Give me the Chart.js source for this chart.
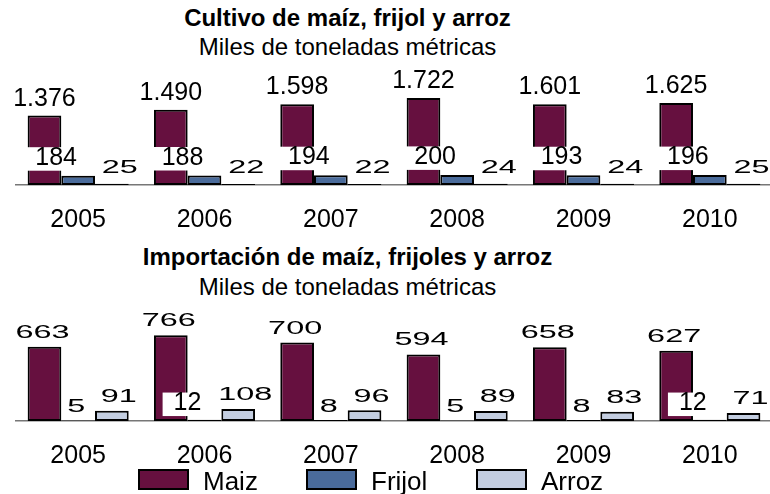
<!DOCTYPE html>
<html><head><meta charset="utf-8">
<script src="https://cdn.jsdelivr.net/npm/chart.js@4/dist/chart.umd.min.js"></script>
<style>
html,body{margin:0;padding:0;width:770px;height:494px;overflow:hidden;background:#fff;font-family:"Liberation Sans",Arial,sans-serif;color:#000;}
.t{position:absolute;left:0;width:695px;text-align:center;font-size:24px;line-height:24px;white-space:nowrap;}
.b{font-weight:bold;}
canvas{position:absolute;}
.sw{position:absolute;width:47px;height:17px;border:2px solid #000;top:469px;}
.lt{position:absolute;font-size:26px;line-height:26px;top:468px;white-space:nowrap;}
</style></head><body>
<div class="t b" style="top:6px">Cultivo de maíz, frijol y arroz</div>
<div class="t" style="top:35px">Miles de toneladas métricas</div>
<div class="t b" style="top:245px">Importación de maíz, frijoles y arroz</div>
<div class="t" style="top:275px">Miles de toneladas métricas</div>
<canvas id="c1" width="758" height="255" style="left:15px;top:0"></canvas>
<canvas id="c2" width="758" height="251" style="left:15px;top:240px"></canvas>
<div id="legend"></div>
<script>
// ---- data ----
const years = ['2005', '2006', '2007', '2008', '2009', '2010'];
const seriesNames = ['Maiz', 'Frijol', 'Arroz'];
const cultivoMaiz   = [1376, 1490, 1598, 1722, 1601, 1625];
const cultivoFrijol = [184, 188, 194, 200, 193, 196];
const cultivoArroz  = [25, 22, 22, 24, 24, 25];
const importMaiz    = [663, 766, 700, 594, 658, 627];
const importFrijol  = [5, 12, 8, 5, 8, 12];
const importArroz   = [91, 108, 96, 89, 83, 71];

// ---- style ----
const colors = ['#66103F', '#4A6B9B', '#C3CDE0'];
const FONT = '"Liberation Sans", Arial, sans-serif';
const importFrijolBoxed = [false, true, false, false, false, true];

const fmt = v => String(v).replace(/\B(?=(\d{3})+(?!\d))/g, '.');

const valueLabels = {
  id: 'valueLabels',
  afterDatasetsDraw(chart) {
    const ctx = chart.ctx;
    chart.data.datasets.forEach((ds, i) => {
      const meta = chart.getDatasetMeta(i);
      const st = ds.labelStyle;
      meta.data.forEach((bar, j) => {
        const s = (st.alt && st.alt[j]) ? st.altStyle : st;
        const text = fmt(ds.data[j]);
        const cx = bar.x + s.dx;
        const by = bar.y - s.gap;
        ctx.save();
        ctx.font = s.size + 'px ' + FONT;
        const w = ctx.measureText(text).width * s.sx;
        if (s.box) {
          ctx.fillStyle = '#fff';
          ctx.fillRect(cx - w / 2 - 11, by - 17.5, w + 22, 23.5);
        }
        ctx.fillStyle = '#000';
        ctx.textAlign = 'center';
        ctx.textBaseline = 'alphabetic';
        ctx.translate(cx, by);
        ctx.scale(s.sx, 1);
        ctx.fillText(text, 0, 0);
        ctx.restore();
      });
    });
  }
};

function makeChart(id, values, styles, yMax, padTop) {
  return new Chart(document.getElementById(id), {
    type: 'bar',
    data: {
      labels: years,
      datasets: values.map((v, i) => ({
        label: seriesNames[i], data: v,
        backgroundColor: colors[i], borderColor: '#000', borderWidth: 2,
        borderSkipped: false,
        categoryPercentage: 0.8, barPercentage: 1.0,
        labelStyle: styles[i]
      }))
    },
    options: {
      responsive: false, animation: false, devicePixelRatio: 1,
      layout: { padding: { top: padTop, left: 0, right: 0, bottom: 0 } },
      plugins: { legend: { display: false }, tooltip: { enabled: false }, title: { display: false } },
      scales: {
        x: {
          grid: { display: false, drawTicks: false },
          border: { display: true, color: '#777', width: 1.5 },
          ticks: { color: '#000', padding: 20, maxRotation: 0, autoSkip: false, font: { family: FONT, size: 25 } }
        },
        y: { display: false, min: 0, max: yMax }
      }
    },
    plugins: [valueLabels]
  });
}

makeChart('c1', [cultivoMaiz, cultivoFrijol, cultivoArroz], [
  { size: 25, sx: 1, dx: 0, gap: 10 },
  { size: 25, sx: 1, dx: -22, gap: 11, box: true },
  { size: 18, sx: 1.8, dx: 8, gap: 10.5 }
], 2000, 84);

makeChart('c2', [importMaiz, importFrijol, importArroz], [
  { size: 18, sx: 1.8, dx: -2, gap: 9 },
  { size: 18, sx: 1.8, dx: -2, gap: 8, alt: importFrijolBoxed,
    altStyle: { size: 25, sx: 1, dx: -17, gap: 9.6, box: true } },
  { size: 18, sx: 1.8, dx: 7, gap: 8.7 }
], 1000, 69);

// ---- legend (HTML, from series names and colours) ----
const legendX = [138, 306, 476];
const leg = document.getElementById('legend');
seriesNames.forEach((n, i) => {
  const sw = document.createElement('div');
  sw.className = 'sw'; sw.style.left = legendX[i] + 'px'; sw.style.background = colors[i];
  const tx = document.createElement('div');
  tx.className = 'lt'; tx.style.left = (legendX[i] + 65) + 'px'; tx.textContent = n;
  leg.appendChild(sw); leg.appendChild(tx);
});
</script>
</body></html>
